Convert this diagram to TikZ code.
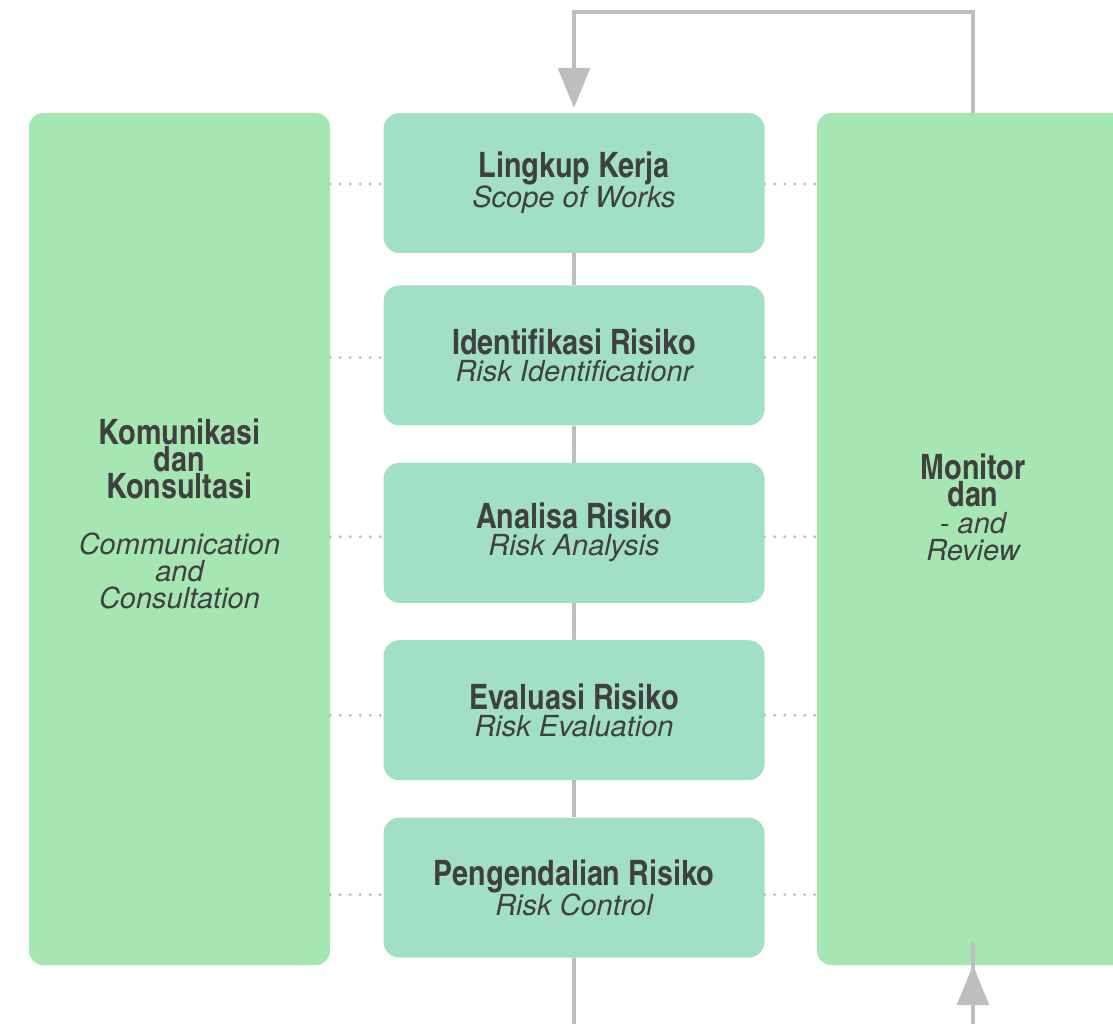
\documentclass[tikz,border=0pt]{standalone}
\usepackage{fontspec}
\setmainfont{TeX Gyre Heros}
\newfontfamily\condbold{texgyreheroscn-bold}[Extension=.otf]
\usepackage{xcolor}
\usepackage{tikz}
\usetikzlibrary{arrows.meta, positioning}

\definecolor{stepgreen}{HTML}{A1E0C4}
\definecolor{sidegreen}{HTML}{A6E6B3}
\definecolor{linegray}{HTML}{BEBEBE}
\definecolor{txtgray}{HTML}{404040}

\newcommand{\titletxt}{\condbold\fontsize{35}{27}\selectfont}
\newcommand{\subtxt}{\normalfont\fontsize{29}{27}\selectfont\itshape}
\newcommand{\steptxt}[2]{\titletxt #1\\\subtxt #2}

\begin{document}
\begin{tikzpicture}[x=1pt, y=1pt, node distance=37pt,
	every node/.style={text=txtgray, align=center},
	stepbox/.style={fill=stepgreen, rounded corners=16pt, minimum width=381pt, minimum height=140pt, font=\fontsize{29}{27}\selectfont},
	sidebox/.style={fill=sidegreen, rounded corners=14pt, minimum height=852pt},
	flow/.style={draw=linegray, line width=3.2pt},
	link/.style={draw=linegray, line width=3.2pt, line cap=round, dash pattern=on 0pt off 10pt},
	>={Triangle[width=32pt, length=40pt]}]
	\clip (0,0) rectangle (1113,-1024);

	% side columns
	\node[sidebox, minimum width=301pt] (komun) at (179.5,-539) {};
	\node[sidebox, minimum width=312pt] (monitor) at (973,-539) {};
	\node[font=\titletxt] (komunText) at ([yshift=25pt]komun.center)
		{Komunikasi\\dan\\Konsultasi\\[29pt]\subtxt Communication\\\subtxt and\\\subtxt Consultation};
	\node[font=\titletxt] (monitorText) at ([yshift=32pt]monitor.center)
		{Monitor\\dan\\\subtxt - and\\\subtxt Review};

	% process steps
	\node[stepbox] (scope) at (574,-183) {\steptxt{Lingkup Kerja}{Scope of Works}};
	\node[stepbox, below=32pt of scope] (ident) {\steptxt{Identifikasi Risiko}{Risk Identificationr}};
	\node[stepbox, below=of ident] (analysis) {\steptxt{Analisa Risiko}{Risk Analysis}};
	\node[stepbox, below=of analysis] (eval) {\steptxt{Evaluasi Risiko}{Risk Evaluation}};
	\node[stepbox, below=of eval] (control) {\steptxt{Pengendalian Risiko}{Risk Control}};

	\coordinate (loopTop) at (0,-12);
	\coordinate (ctrlEnd) at (574,-1024);
	\coordinate (monBottom) at (973,-1024);

	\draw[flow] (scope) -- (ident);
	\draw[flow] (ident) -- (analysis);
	\draw[flow] (analysis) -- (eval);
	\draw[flow] (eval) -- (control);
	\draw[flow] (control) -- (ctrlEnd);

	% feedback loop
	\draw[flow, ->] (monitor.north) -- (monitor.north |- loopTop) -| ([yshift=5pt]scope.north);
	\draw[flow] (monBottom) -- ([yshift=23pt]monitor.south);
	\draw[flow, ->] (monBottom) -- (monitor.south);

	% dotted links to both columns
	\foreach \s/\dy in {scope/1, ident/2, analysis/4, eval/5, control/7} {
		\draw[link] ([yshift=-\dy pt]\s.west -| komun.east) -- ([yshift=-\dy pt]\s.west);
		\draw[link] ([yshift=-\dy pt]\s.east) -- ([yshift=-\dy pt]\s.east -| monitor.west);
	}
\end{tikzpicture}
\end{document}
